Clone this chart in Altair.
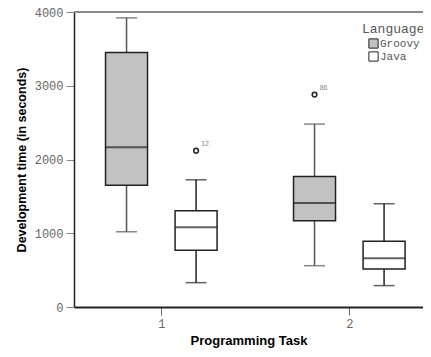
import altair as alt
import pandas as pd

# Box summary per task / language (seconds)
tasks = [1, 1, 2, 2]
languages = ["Groovy", "Java", "Groovy", "Java"]
whisker_low = [1020, 330, 560, 290]
q1 = [1650, 770, 1170, 515]
median = [2165, 1080, 1410, 660]
q3 = [3450, 1305, 1770, 890]
whisker_high = [3920, 1725, 2480, 1400]

# Outliers
out_task = [1, 2]
out_language = ["Java", "Groovy"]
out_value = [2120, 2880]
out_case = ["12", "86"]

y_ticks = [0, 1000, 2000, 3000, 4000]
x_ticks = [1, 2]

boxes = pd.DataFrame({
    "task": tasks, "language": languages, "low": whisker_low,
    "q1": q1, "median": median, "q3": q3, "high": whisker_high,
})
outs = pd.DataFrame({
    "task": out_task, "language": out_language,
    "value": out_value, "case": out_case,
})

pos_expr = "datum.task + (datum.language == 'Groovy' ? -0.185 : 0.185)"

x_scale = alt.Scale(domain=[0.5356, 2.392], nice=False, zero=False, padding=0)
y_scale = alt.Scale(domain=[0, 4000], nice=False, padding=0)

line_col = alt.condition("datum.language == 'Groovy'", alt.value("#555555"), alt.value("#222222"))

X = alt.X("pos:Q", scale=x_scale,
          axis=alt.Axis(values=x_ticks, format="d", title="Programming Task",
                        grid=False, domainColor="#222", domainWidth=2,
                        tickColor="#666", tickSize=8, labelPadding=3,
                        titlePadding=5, titleFontSize=13))

base = alt.Chart(boxes).transform_calculate(pos=pos_expr)

whisk = base.mark_rule(strokeWidth=1.5).encode(
    x=X,
    y=alt.Y("low:Q", scale=y_scale,
            axis=alt.Axis(values=y_ticks, format="d",
                          title="Development time (in seconds)",
                          grid=False, domainColor="#222", domainWidth=1.5,
                          tickColor="#888", tickSize=8, labelPadding=3,
                          titlePadding=6, titleFontSize=12.5)),
    y2="high:Q",
    stroke=line_col,
)

caps_low = base.mark_tick(orient="horizontal", size=21, thickness=1.5).encode(
    x="pos:Q", y="low:Q", color=line_col,
)
caps_high = base.mark_tick(orient="horizontal", size=21, thickness=1.5).encode(
    x="pos:Q", y="high:Q", color=line_col,
)

box = base.mark_bar(size=42, stroke="#222", strokeWidth=1.5).encode(
    x="pos:Q", y="q1:Q", y2="q3:Q",
    fill=alt.Fill("language:N", title="Language",
                  scale=alt.Scale(domain=["Groovy", "Java"], range=["#c2c2c2", "#ffffff"]),
                  legend=alt.Legend(orient="none", legendX=288, legendY=11,
                                    symbolType="square", symbolSize=85,
                                    symbolOffset=6,
                                    symbolStrokeColor="#222", symbolStrokeWidth=1,
                                    labelFont="Liberation Mono", labelFontSize=11,
                                    labelColor="#555", labelOffset=1, rowPadding=-2,
                                    titleFont="Liberation Mono", titleFontSize=13,
                                    titlePadding=2)),
)

med = base.mark_tick(orient="horizontal", size=42, thickness=2, color="#222").encode(
    x="pos:Q", y="median:Q",
)

obase = alt.Chart(outs).transform_calculate(pos=pos_expr)
opts = obase.mark_point(shape="circle", size=22, filled=False, stroke="#222",
                        strokeWidth=1.5, opacity=1).encode(x="pos:Q", y="value:Q")
olabels = obase.mark_text(font="Liberation Sans", fontSize=7, color="#888",
                          dx=9, dy=-7).encode(x="pos:Q", y="value:Q", text="case:N")

topline = alt.Chart(pd.DataFrame({"v": [4000]})).mark_rule(
    color="#8a8a8a", strokeWidth=2).encode(y="v:Q")

chart = alt.layer(topline, whisk, caps_low, caps_high, box, med, opts, olabels).properties(
    width=349, height=295,
    background="white",
    autosize=alt.AutoSizeParams(type="none"),
    padding={"left": 66, "top": 4, "right": 0, "bottom": 42},
).configure_view(stroke=None).configure_axis(
    labelFont="Liberation Mono", labelFontSize=12, labelColor="#666",
    titleFont="Liberation Sans", titleFontWeight="bold", titleColor="#000",
).configure_legend(
    titleFont="Liberation Mono", titleFontWeight="normal", titleFontSize=13,
    titleColor="#555",
)

chart.save("out.html", embed_options={"renderer": "svg", "actions": False})
